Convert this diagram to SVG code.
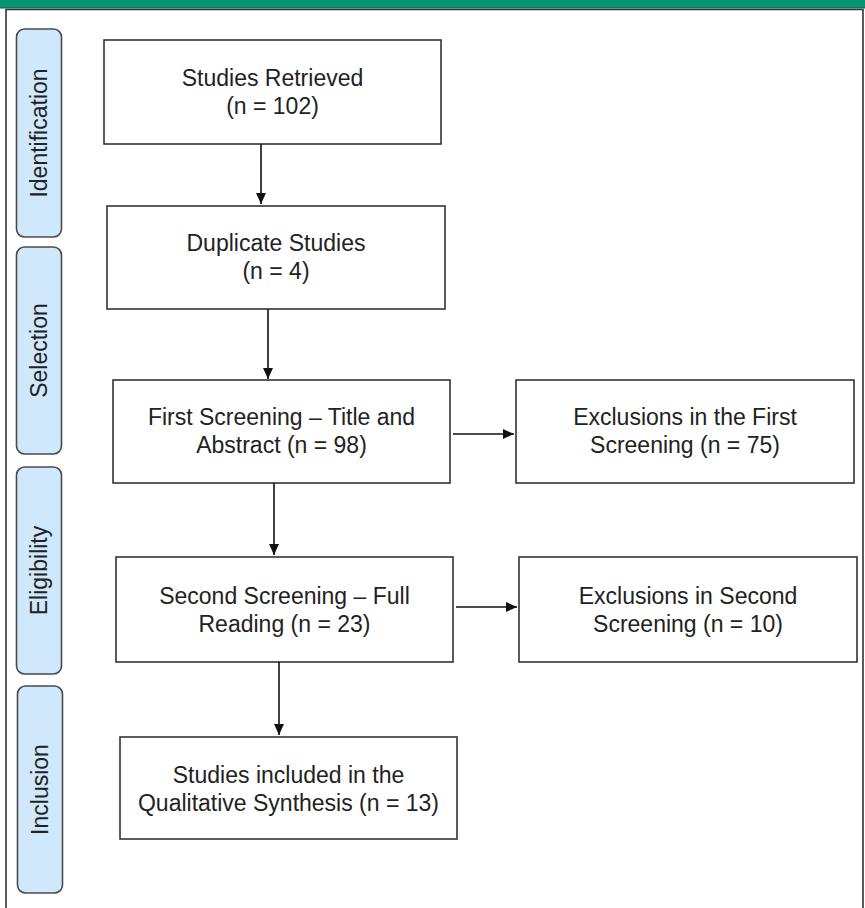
<svg xmlns="http://www.w3.org/2000/svg" width="865" height="908" viewBox="0 0 865 908">
<style>
.box{fill:#fff;stroke:#333;stroke-width:1.6}
.side{fill:#cfe8fb;stroke:#4a4a4a;stroke-width:1.6}
.t{font-family:"Liberation Sans",Arial,sans-serif;font-size:23px;fill:#222;text-anchor:middle}
.c{stroke:#111;stroke-width:1.6;fill:none;marker-end:url(#ah)}
</style>
<defs>
<marker id="ah" viewBox="0 0 10 10" refX="10" refY="5" markerWidth="11" markerHeight="11" markerUnits="userSpaceOnUse" orient="auto">
<path d="M0,0.5 L10,5 L0,9.5 z" fill="#111"/>
</marker>
</defs>
<rect x="0" y="0" width="865" height="908" fill="#fff"/>
<rect x="0" y="0" width="865" height="8" fill="#079470"/>
<line x1="0" y1="8" x2="865" y2="8" stroke="#0b5a44" stroke-width="1"/>
<path d="M6,910 L6,9.5 L863,9.5 L863,910" fill="none" stroke="#333" stroke-width="1.6"/>

<g id="lbl-identification">
<rect class="side" x="16.5" y="29" width="45" height="208" rx="8"/>
<text class="t" transform="translate(46.5,133) rotate(-90)">Identification</text>
</g>
<g id="lbl-selection">
<rect class="side" x="16.5" y="247" width="45" height="207" rx="8"/>
<text class="t" transform="translate(46.5,350.5) rotate(-90)">Selection</text>
</g>
<g id="lbl-eligibility">
<rect class="side" x="16.5" y="467" width="45" height="207" rx="8"/>
<text class="t" transform="translate(46.5,570.5) rotate(-90)">Eligibility</text>
</g>
<g id="lbl-inclusion">
<rect class="side" x="17.5" y="686" width="45" height="207" rx="8"/>
<text class="t" transform="translate(47.5,789.5) rotate(-90)">Inclusion</text>
</g>

<g id="n-retrieved">
<rect class="box" x="104" y="40" width="337" height="104"/>
<text class="t" x="272.5" y="86">Studies Retrieved</text>
<text class="t" x="272.5" y="114">(n = 102)</text>
</g>
<g id="n-duplicate">
<rect class="box" x="107" y="206" width="338" height="103"/>
<text class="t" x="276" y="251">Duplicate Studies</text>
<text class="t" x="276" y="279">(n = 4)</text>
</g>
<g id="n-first">
<rect class="box" x="113" y="380" width="337" height="103"/>
<text class="t" x="281.5" y="425">First Screening – Title and</text>
<text class="t" x="281.5" y="453">Abstract (n = 98)</text>
</g>
<g id="n-excl1">
<rect class="box" x="516" y="380" width="338" height="103"/>
<text class="t" x="685" y="425">Exclusions in the First</text>
<text class="t" x="685" y="453">Screening (n = 75)</text>
</g>
<g id="n-second">
<rect class="box" x="116" y="557" width="337" height="105"/>
<text class="t" x="284.5" y="604">Second Screening – Full</text>
<text class="t" x="284.5" y="632">Reading (n = 23)</text>
</g>
<g id="n-excl2">
<rect class="box" x="519" y="557" width="338" height="105"/>
<text class="t" x="688" y="604">Exclusions in Second</text>
<text class="t" x="688" y="632">Screening (n = 10)</text>
</g>
<g id="n-included">
<rect class="box" x="120" y="737" width="337" height="102"/>
<text class="t" x="288.5" y="783">Studies included in the</text>
<text class="t" x="288.5" y="811">Qualitative Synthesis (n = 13)</text>
</g>

<g id="connectors">
<line class="c" x1="261" y1="144" x2="261" y2="204"/>
<line class="c" x1="268" y1="309" x2="268" y2="379"/>
<line class="c" x1="274" y1="483" x2="274" y2="555"/>
<line class="c" x1="279" y1="662" x2="279" y2="735"/>
<line class="c" x1="453" y1="434" x2="514" y2="434"/>
<line class="c" x1="456" y1="607" x2="517" y2="607"/>
</g>
</svg>
